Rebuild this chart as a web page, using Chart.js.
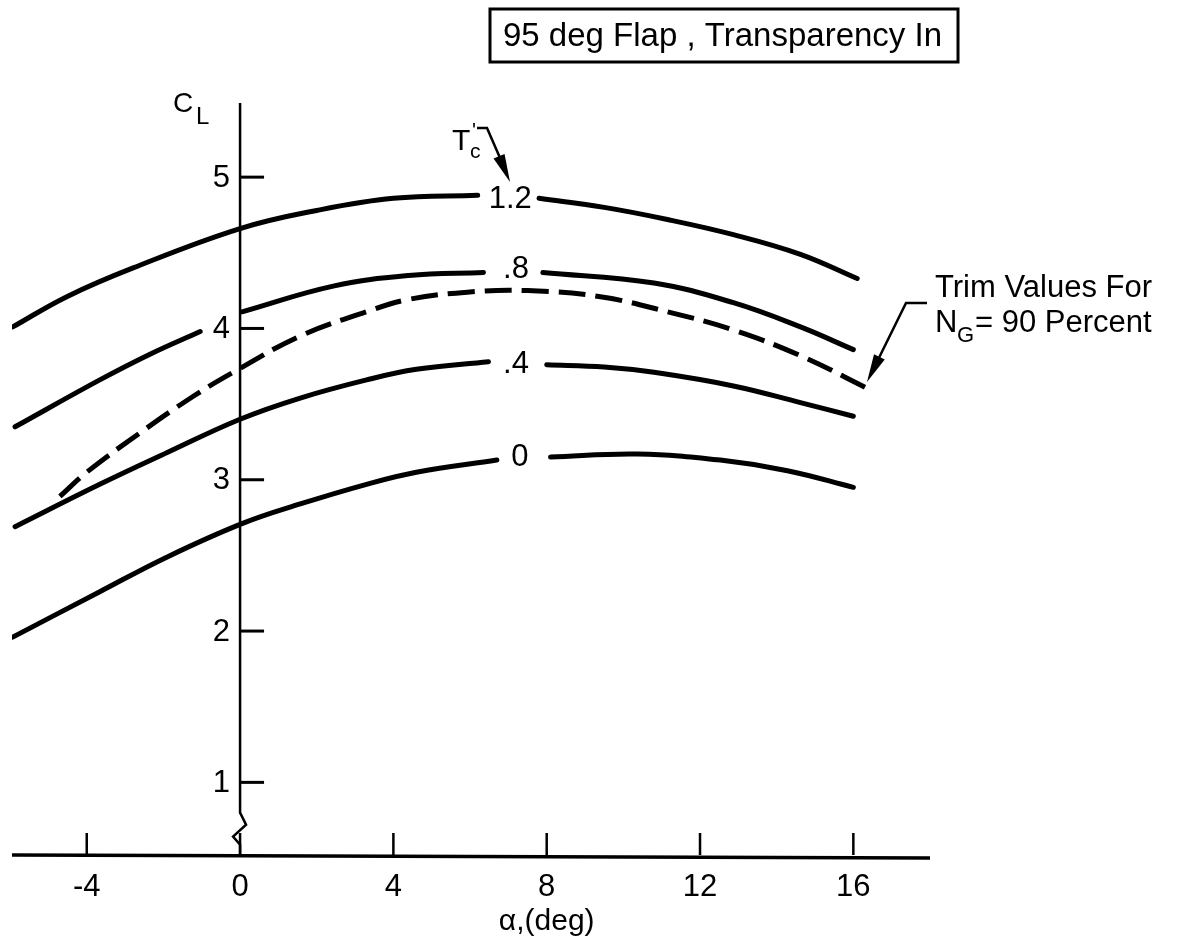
<!DOCTYPE html>
<html>
<head>
<meta charset="utf-8">
<script src="https://cdn.jsdelivr.net/npm/chart.js@4.4.1/dist/chart.umd.min.js"></script>
<style>
  html, body { margin: 0; padding: 0; background: #fff; }
  canvas { display: block; }
</style>
</head>
<body>
<canvas id="chart" width="1179" height="945"></canvas>
<script>
// tick values
const xTicks = [-4, 0, 4, 8, 12, 16];
const yTicks = [1, 2, 3, 4, 5];

// Tc' = 1.2  (null = gap for the curve label)
const alpha12 = [-5.93, -4.52, -2.79, 0, 2, 4, 6.2, null, 7.8, 9.5, 11.15, 12.87, 14.62, 16.1];
const cl12    = [4.01, 4.21, 4.40, 4.66, 4.78, 4.86, 4.88, null, 4.86, 4.80, 4.72, 4.62, 4.49, 4.33];

// Tc' = .8
const alpha08 = [-5.87, -3.66, -2.35, -1.04, null, 0.05, 2.43, 4.4, 6.35, null, 7.9, 10.8, 12.87, 14.62, 16.0];
const cl08    = [3.35, 3.66, 3.83, 3.98, null, 4.11, 4.28, 4.35, 4.37, null, 4.37, 4.30, 4.17, 4.01, 3.86];

// Tc' = .4
const alpha04 = [-5.87, -3.66, -1.9, 0, 1.57, 3.3, 4.6, 6.48, null, 8.0, 9.5, 10.8, 12.87, 14.62, 16.0];
const cl04    = [2.69, 2.97, 3.18, 3.40, 3.54, 3.66, 3.73, 3.78, null, 3.76, 3.745, 3.71, 3.62, 3.51, 3.42];

// Tc' = 0
const alpha00 = [-5.93, -3.66, -1.9, 0.05, 1.57, 3.3, 4.6, 6.7, null, 8.1, 10.37, 12.53, 14.28, 16.0];
const cl00    = [1.96, 2.26, 2.49, 2.71, 2.84, 2.97, 3.05, 3.13, null, 3.15, 3.17, 3.13, 3.06, 2.95];

// trim values for NG = 90 percent (dashed)
const alphaTrim = [-4.7, -4.0, -2.61, -1.23, -0.18, 1.57, 3.3, 4.36, 5.93, 7.5, 9.4, 11.15, 12.87, 14.62, 16.4];
const clTrim    = [2.89, 3.05, 3.31, 3.55, 3.71, 3.95, 4.11, 4.19, 4.24, 4.25, 4.21, 4.11, 3.99, 3.82, 3.60];

// curve labels
const curveLabels = ['1.2', '.8', '.4', '0'];
const labelAlpha  = [7.05, 7.2, 7.2, 7.3];
const labelCl     = [4.85, 4.39, 3.76, 3.15];

const FONT = '"Liberation Sans", Arial, sans-serif';

function pts(a, c) {
  return a.map((v, i) => ({ x: v, y: c[i] }));
}

function curve(a, c, dashed) {
  return {
    data: pts(a, c),
    showLine: true,
    borderColor: '#000',
    borderWidth: 5,
    borderCapStyle: dashed ? 'butt' : 'round',
    borderDash: dashed ? [27, 10] : [],
    pointRadius: 0,
    fill: false,
    spanGaps: false,
    tension: 0.4
  };
}

function arrowHead(ctx, fx, fy, tx, ty, len, half) {
  const ang = Math.atan2(ty - fy, tx - fx);
  ctx.beginPath();
  ctx.moveTo(tx, ty);
  ctx.lineTo(tx - len * Math.cos(ang) + half * Math.sin(ang), ty - len * Math.sin(ang) - half * Math.cos(ang));
  ctx.lineTo(tx - len * Math.cos(ang) - half * Math.sin(ang), ty - len * Math.sin(ang) + half * Math.cos(ang));
  ctx.closePath();
  ctx.fill();
}

const decorations = {
  id: 'decorations',
  afterDatasetsDraw(chart) {
    const ctx = chart.ctx;
    const xs = chart.scales.x, ys = chart.scales.y;
    const area = chart.chartArea;
    const x0 = xs.getPixelForValue(0);
    const yb = area.bottom;
    ctx.save();
    ctx.strokeStyle = '#000';
    ctx.fillStyle = '#000';
    ctx.lineCap = 'butt';

    // x axis
    ctx.lineWidth = 3.5;
    ctx.beginPath();
    ctx.moveTo(area.left, yb);
    ctx.lineTo(area.right, yb + 3);
    ctx.stroke();

    // y axis with break
    const yBreak = ys.getPixelForValue(0.8);
    ctx.lineWidth = 2.5;
    ctx.beginPath();
    ctx.moveTo(x0, area.top);
    ctx.lineTo(x0, yBreak);
    ctx.lineTo(x0 + 6, yBreak + 12);
    ctx.lineTo(x0 - 7, yBreak + 24);
    ctx.lineTo(x0, yBreak + 32);
    ctx.lineTo(x0, yb);
    ctx.stroke();

    // y ticks
    ctx.font = '31px ' + FONT;
    ctx.textAlign = 'right';
    ctx.textBaseline = 'middle';
    yTicks.forEach(v => {
      const py = ys.getPixelForValue(v);
      ctx.lineWidth = 3;
      ctx.beginPath();
      ctx.moveTo(x0, py);
      ctx.lineTo(x0 + 24, py);
      ctx.stroke();
      ctx.fillText(String(v), x0 - 10, py + 1);
    });

    // x ticks
    ctx.textAlign = 'center';
    xTicks.forEach(v => {
      const px = xs.getPixelForValue(v);
      ctx.lineWidth = 2.5;
      ctx.beginPath();
      ctx.moveTo(px, yb);
      ctx.lineTo(px, yb - 22);
      ctx.stroke();
      ctx.fillText(String(v), px, yb + 32);
    });

    // axis titles
    ctx.font = '30px ' + FONT;
    ctx.fillText('\u03b1,(deg)', xs.getPixelForValue(8), yb + 67);

    ctx.textAlign = 'left';
    ctx.textBaseline = 'alphabetic';
    ctx.font = '28px ' + FONT;
    ctx.fillText('C', 173, 112);
    ctx.font = '24px ' + FONT;
    ctx.fillText('L', 196, 124);

    // curve labels
    ctx.font = '31px ' + FONT;
    ctx.textAlign = 'center';
    ctx.textBaseline = 'middle';
    curveLabels.forEach((t, i) => {
      ctx.fillText(t, xs.getPixelForValue(labelAlpha[i]), ys.getPixelForValue(labelCl[i]));
    });

    // Tc' label and arrow
    ctx.textAlign = 'left';
    ctx.textBaseline = 'alphabetic';
    ctx.font = '30px ' + FONT;
    ctx.fillText('T', 452, 150);
    ctx.font = '21px ' + FONT;
    ctx.fillText('c', 470, 158);
    ctx.fillText('\'', 472, 137);
    ctx.lineWidth = 2.5;
    ctx.beginPath();
    ctx.moveTo(477, 128);
    ctx.lineTo(487, 128);
    ctx.lineTo(507, 174);
    ctx.stroke();
    arrowHead(ctx, 487, 128, 510, 182, 28, 6);

    // title box
    ctx.lineWidth = 3;
    ctx.strokeRect(490, 9, 468, 53);
    ctx.font = '33px ' + FONT;
    ctx.textBaseline = 'middle';
    ctx.fillText('95 deg Flap , Transparency In', 503, 37);

    // trim annotation
    ctx.textBaseline = 'alphabetic';
    ctx.font = '31px ' + FONT;
    ctx.fillText('Trim Values For', 935, 297);
    ctx.fillText('N', 935, 332);
    ctx.font = '22px ' + FONT;
    ctx.fillText('G', 957, 342);
    ctx.font = '31px ' + FONT;
    ctx.fillText('= 90 Percent', 975, 332);
    ctx.lineWidth = 2.5;
    ctx.beginPath();
    ctx.moveTo(927, 303);
    ctx.lineTo(906, 303);
    ctx.lineTo(871, 374);
    ctx.stroke();
    arrowHead(ctx, 906, 303, 867, 382, 28, 6);

    ctx.restore();
  }
};

new Chart(document.getElementById('chart'), {
  type: 'scatter',
  data: {
    datasets: [
      curve(alpha12, cl12, false),
      curve(alpha08, cl08, false),
      curve(alpha04, cl04, false),
      curve(alpha00, cl00, false),
      curve(alphaTrim, clTrim, true)
    ]
  },
  options: {
    responsive: false,
    devicePixelRatio: 1,
    animation: false,
    layout: { padding: { left: 12, right: 249, top: 103, bottom: 90 } },
    plugins: { legend: { display: false }, tooltip: { enabled: false } },
    scales: {
      x: { type: 'linear', min: -5.95, max: 18, display: false },
      y: { type: 'linear', min: 0.52, max: 5.49, display: false }
    }
  },
  plugins: [decorations]
});
</script>
</body>
</html>
